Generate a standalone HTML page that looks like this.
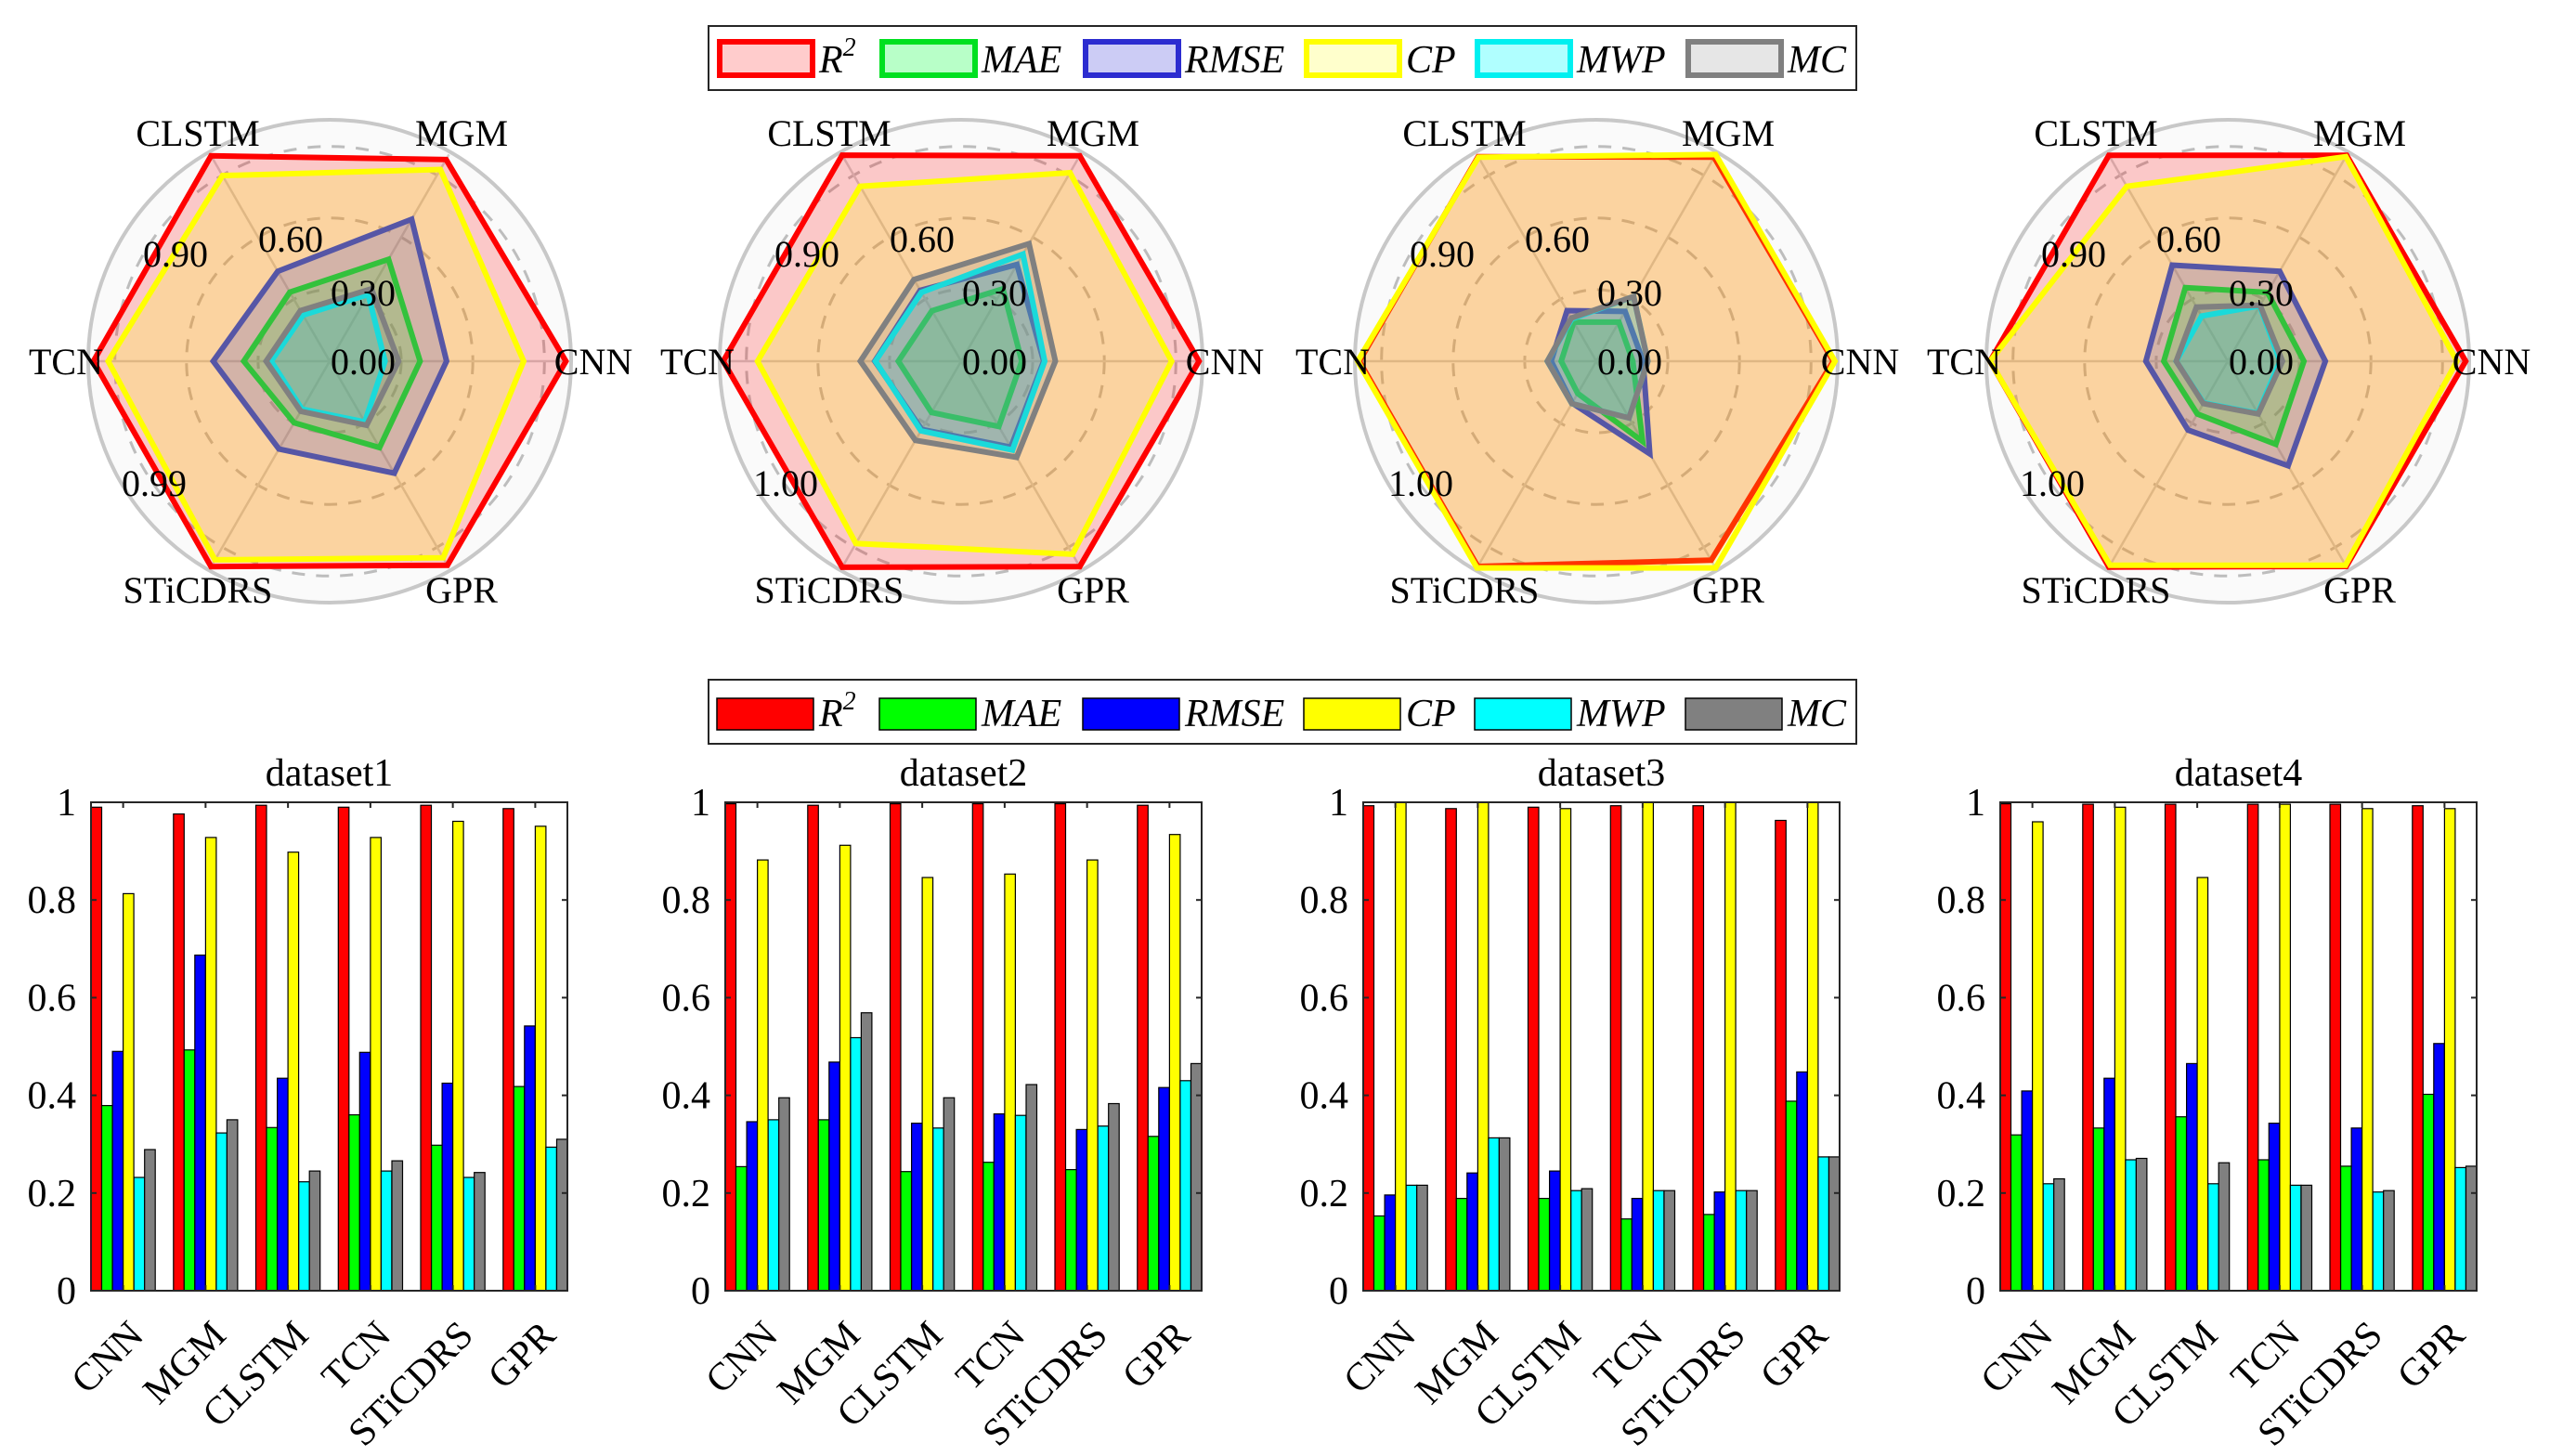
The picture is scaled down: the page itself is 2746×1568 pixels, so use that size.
<!DOCTYPE html>
<html><head><meta charset="utf-8"><style>
html,body{margin:0;padding:0;background:#fff}
svg{display:block}
</style></head><body>
<svg id="fig" width="2746" height="1568" viewBox="0 0 2746 1568" xmlns="http://www.w3.org/2000/svg" font-family="'Liberation Serif', 'Times New Roman', serif">
<rect width="2746" height="1568" fill="#fff"/>
<g id="radar-layer"></g>
<g id="bar-layer"></g>
<g id="legend-layer"></g>
</svg>
<script>
const models=['CNN','MGM','CLSTM','TCN','STiCDRS','GPR'];
const metrics=['R2','MAE','RMSE','CP','MWP','MC'];
const datasetNames=['dataset1','dataset2','dataset3','dataset4'];
const yTicks=[0,0.2,0.4,0.6,0.8,1];
const yTickLabels=['0','0.2','0.4','0.6','0.8','1'];
const radarTickLabels1=['0.00','0.30','0.60','0.90','0.99'];
const radarTickLabels2=['0.00','0.30','0.60','0.90','1.00'];
// dataset1
const d1R2=[0.990,0.976,0.994,0.990,0.994,0.987];
const d1MAE=[0.379,0.493,0.334,0.360,0.298,0.418];
const d1RMSE=[0.490,0.687,0.435,0.488,0.425,0.542];
const d1CP=[0.813,0.928,0.898,0.928,0.961,0.951];
const d1MWP=[0.232,0.323,0.223,0.245,0.232,0.294];
const d1MC=[0.289,0.350,0.245,0.266,0.242,0.310];
// dataset2
const d2R2=[0.997,0.994,0.997,0.997,0.997,0.994];
const d2MAE=[0.254,0.350,0.244,0.263,0.248,0.316];
const d2RMSE=[0.346,0.468,0.343,0.362,0.330,0.416];
const d2CP=[0.882,0.912,0.846,0.853,0.882,0.934];
const d2MWP=[0.350,0.518,0.333,0.359,0.337,0.430];
const d2MC=[0.395,0.569,0.395,0.422,0.383,0.465];
// dataset3
const d3R2=[0.993,0.987,0.990,0.993,0.993,0.963];
const d3MAE=[0.153,0.189,0.189,0.147,0.156,0.388];
const d3RMSE=[0.196,0.241,0.245,0.189,0.202,0.448];
const d3CP=[1.0,1.0,0.987,1.0,1.0,1.0];
const d3MWP=[0.216,0.313,0.205,0.205,0.205,0.274];
const d3MC=[0.216,0.313,0.209,0.205,0.205,0.274];
// dataset4
const d4R2=[0.997,0.996,0.996,0.996,0.996,0.993];
const d4MAE=[0.319,0.333,0.356,0.268,0.255,0.402];
const d4RMSE=[0.409,0.435,0.465,0.343,0.333,0.506];
const d4CP=[0.960,0.990,0.846,0.996,0.987,0.987];
const d4MWP=[0.219,0.268,0.219,0.216,0.202,0.252];
const d4MC=[0.229,0.271,0.262,0.216,0.205,0.255];

const datasets=[[d1R2,d1MAE,d1RMSE,d1CP,d1MWP,d1MC],[d2R2,d2MAE,d2RMSE,d2CP,d2MWP,d2MC],[d3R2,d3MAE,d3RMSE,d3CP,d3MWP,d3MC],[d4R2,d4MAE,d4RMSE,d4CP,d4MWP,d4MC]];
const barColors=['#ff0000','#00ff00','#0000ff','#ffff00','#00ffff','#808080'];
const lineColors=['#ff0000','#00e020','#2c2cd0','#ffff00','#00f0f0','#808080'];
const NS='http://www.w3.org/2000/svg';
const FF="'Liberation Serif', 'Times New Roman', serif";
function mk(tag,attrs,parent){const e=document.createElementNS(NS,tag);for(const k in attrs)e.setAttribute(k,attrs[k]);if(tag==='text')e.setAttribute('font-family',FF);parent.appendChild(e);return e;}

// ---------- radar ----------
const radarLayer=document.getElementById('radar-layer');
const radarCx=[355,1035,1719,2399];
const radarCy=389;
const rScale=257;
const angles=[0,60,120,180,240,300];
function rx(cx,v,i){return cx+Math.min(v,1)*rScale*Math.cos(angles[i]*Math.PI/180);}
function ry(v,i){return radarCy-Math.min(v,1)*rScale*Math.sin(angles[i]*Math.PI/180);}
datasets.forEach((ds,d)=>{
  const cx=radarCx[d];
  const g=mk('g',{},radarLayer);
  
  
  const bg=mk('circle',{cx:cx,cy:radarCy,r:rScale+3,fill:'#fafafa',stroke:'#c8c8c8','stroke-width':4},g);
  
  
  [0.3,0.6,0.9].forEach(t=>{
    const c=mk('circle',{cx:cx,cy:radarCy,r:t*rScale,fill:'none',stroke:'#bdbdbd','stroke-width':3,'stroke-dasharray':'14 12'},g);
    
    
  });
  models.forEach((m,i)=>{
    const l=mk('line',{x1:cx,y1:radarCy,x2:rx(cx,1.0,i),y2:ry(1.0,i),stroke:'#cfcfcf','stroke-width':2.5},g);
    
    
  });
  ds.forEach((vals,s)=>{
    const pts=vals.map((v,i)=>rx(cx,v,i).toFixed(1)+','+ry(v,i).toFixed(1)).join(' ');
    const p=mk('polygon',{points:pts,fill:barColors[s],'fill-opacity':0.2,stroke:lineColors[s],'stroke-width':6,'stroke-linejoin':'miter'},g);
    
    
  });
  const tl=d===0?radarTickLabels1:radarTickLabels2;
  const offs=[[36,0],[36,-74],[-42,-132],[-166,-116],[-189,131]];
  tl.forEach((t,k)=>{
    const tx=mk('text',{x:cx+offs[k][0],y:radarCy+offs[k][1]+14,'font-size':40,'text-anchor':'middle'},g);
    tx.textContent=t;
    
    
  });
  models.forEach((m,i)=>{
    const a=angles[i]*Math.PI/180;
    const lr=284;
    const tx=mk('text',{x:cx+lr*Math.cos(a),y:radarCy-lr*Math.sin(a)+14,'font-size':40,'text-anchor':'middle'},g);
    tx.textContent=m;
    
    
  });
});

// ---------- bars ----------
const barLayer=document.getElementById('bar-layer');
const axLeft=[98,781,1468,2154];
const axW=513, axTop=864, axBot=1390;
const pad=0.39;
function xPos(d,c){return axLeft[d]+(c+pad)/(models.length-1+2*pad)*axW;}
function yPos(v){return axBot-Math.min(v,1)*(axBot-axTop);}
const catW=axW/(models.length-1+2*pad);
const groupW=0.78*catW, bw=groupW/6;
datasets.forEach((ds,d)=>{
  const g=mk('g',{},barLayer);
  
  
  const t=mk('text',{x:axLeft[d]+axW/2,y:846,'font-size':42,'text-anchor':'middle'},g);
  t.textContent=datasetNames[d];
  
  
  models.forEach((m,c)=>{
    const cx=xPos(d,c);
    ds.forEach((vals,s)=>{
      const x=cx-groupW/2+s*bw;
      const y=yPos(vals[c]);
      const r=mk('rect',{x:x.toFixed(1),y:y.toFixed(1),width:bw.toFixed(1),height:(axBot-y).toFixed(1),fill:barColors[s],stroke:'#000','stroke-width':1.2},g);
      
      
    });
    const tk=mk('line',{x1:cx,y1:axBot,x2:cx,y2:axBot-6,stroke:'#262626','stroke-width':2},g);
    
    
    const tk2=mk('line',{x1:cx,y1:axTop,x2:cx,y2:axTop+6,stroke:'#262626','stroke-width':2},g);
    
    
    const lx=cx+24, ly=axBot+50;
    const tl=mk('text',{x:lx,y:ly,'font-size':42,'text-anchor':'end',transform:'rotate(-45 '+lx+' '+ly+')'},g);
    tl.textContent=m;
    
    
  });
  yTicks.forEach((v,k)=>{
    const y=yPos(v);
    const a=mk('line',{x1:axLeft[d],y1:y,x2:axLeft[d]+6,y2:y,stroke:'#262626','stroke-width':2},g);
    
    
    const b=mk('line',{x1:axLeft[d]+axW,y1:y,x2:axLeft[d]+axW-6,y2:y,stroke:'#262626','stroke-width':2},g);
    
    
    const tx=mk('text',{x:axLeft[d]-16,y:y+14,'font-size':42,'text-anchor':'end'},g);
    tx.textContent=yTickLabels[k];
    
    
  });
  const box=mk('rect',{x:axLeft[d],y:axTop,width:axW,height:axBot-axTop,fill:'none',stroke:'#262626','stroke-width':2},g);
  
  
});

// ---------- legends ----------
const legLayer=document.getElementById('legend-layer');
const swX=[772,947,1166,1404,1588,1815];
const legendLabels=['R','MAE','RMSE','CP','MWP','MC'];
function legend(top,filled,name){
  const g=mk('g',{},legLayer);
  
  
  const b=mk('rect',{x:763,y:top,width:1236,height:69,fill:'#fff',stroke:'#262626','stroke-width':2},g);
  
  
  metrics.forEach((m,s)=>{
    const eg=mk('g',{},g);
    
    
    let r;
    if(filled){
      r=mk('rect',{x:swX[s],y:top+20,width:104,height:34,fill:barColors[s],stroke:'#000','stroke-width':1.5},eg);
    }else{
      const fc=['#ffcccc','#b8ffc8','#ccccf5','#ffffcc','#b0ffff','#e6e6e6'][s];
      r=mk('rect',{x:swX[s]+3,y:top+17,width:100,height:36,fill:fc,stroke:lineColors[s],'stroke-width':6},eg);
    }
    
    
    const tx=mk('text',{x:swX[s]+110,y:top+50,'font-size':42,'font-style':'italic'},eg);
    tx.textContent=legendLabels[s];
    if(s===0){const sp=mk('tspan',{dy:-18,'font-size':28},tx);sp.textContent='2';}
    
    
  });
}
legend(28,false,'radar-legend');
legend(732,true,'bar-legend');
</script>
</body></html>
